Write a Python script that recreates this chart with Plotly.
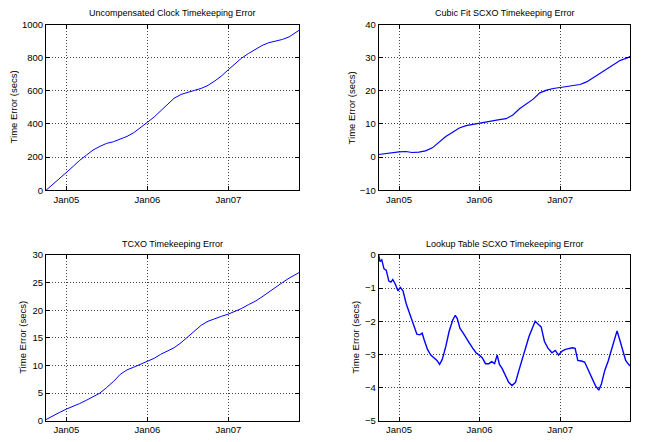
import plotly.graph_objects as go

# ---------------- data ----------------
months = ["2004-10-01", "2004-11-01", "2004-12-01", "2005-01-01", "2005-02-01", "2005-03-01",
          "2005-04-01", "2005-05-01", "2005-06-01", "2005-07-01", "2005-08-01", "2005-09-01",
          "2005-10-01", "2005-11-01", "2005-12-01", "2006-01-01", "2006-02-01", "2006-03-01",
          "2006-04-01", "2006-05-01", "2006-06-01", "2006-07-01", "2006-08-01", "2006-09-01",
          "2006-10-01", "2006-11-01", "2006-12-01", "2007-01-01", "2007-02-01", "2007-03-01",
          "2007-04-01", "2007-05-01", "2007-06-01", "2007-07-01", "2007-08-01", "2007-09-01",
          "2007-10-01", "2007-11-01", "2007-11-15"]

uncompensated = [0, 35, 72, 108, 145, 180, 212, 243, 265, 283, 293, 307, 325, 348, 377, 410,
                 443, 478, 520, 555, 578, 592, 603, 615, 633, 660, 690, 728, 762, 797, 825,
                 850, 873, 890, 900, 910, 925, 953, 965]

cubic_fit = [0.8, 1.1, 1.3, 1.6, 1.7, 1.4, 1.5, 1.9, 2.8, 4.4, 6.2, 7.5, 8.8, 9.5, 9.9, 10.2,
             10.6, 11.1, 11.3, 11.6, 12.7, 14.6, 16.0, 17.5, 19.4, 20.2, 20.7, 20.9, 21.3, 21.6,
             21.9, 22.7, 24.0, 25.4, 26.8, 28.1, 29.2, 29.9, 30.4]

tcxo = [0.2, 0.9, 1.5, 2.1, 2.6, 3.1, 3.7, 4.3, 5.0, 6.0, 7.1, 8.4, 9.2, 9.7, 10.2, 10.7, 11.3,
        12.0, 12.6, 13.2, 14.1, 15.2, 16.3, 17.3, 18.0, 18.5, 18.9, 19.3, 19.8, 20.3, 21.0,
        21.6, 22.4, 23.3, 24.2, 25.0, 25.8, 26.5, 26.8]

lookup_dates = ["2004-10-01", "2004-10-07", "2004-10-15", "2004-10-25", "2004-11-04", "2004-11-16",
                "2004-11-25", "2004-12-04", "2004-12-16", "2004-12-27", "2005-01-07", "2005-01-19",
                "2005-02-03", "2005-02-21", "2005-03-11", "2005-03-23", "2005-04-05", "2005-04-16",
                "2005-04-25", "2005-05-10", "2005-05-25", "2005-06-10", "2005-06-22", "2005-07-04",
                "2005-07-16", "2005-08-01", "2005-08-16", "2005-09-01", "2005-09-13", "2005-09-22",
                "2005-10-04", "2005-10-19", "2005-11-01", "2005-11-16", "2005-12-01", "2005-12-16",
                "2006-01-01", "2006-01-13", "2006-01-28", "2006-02-12", "2006-02-25", "2006-03-10",
                "2006-03-22", "2006-04-01", "2006-04-13", "2006-04-28", "2006-05-13", "2006-05-28",
                "2006-06-13", "2006-06-28", "2006-07-13", "2006-07-28", "2006-08-13", "2006-08-28",
                "2006-09-10", "2006-09-25", "2006-10-07", "2006-10-22", "2006-11-07", "2006-11-25",
                "2006-12-10", "2006-12-25", "2007-01-10", "2007-01-25", "2007-02-10", "2007-02-25",
                "2007-03-10", "2007-03-22", "2007-04-07", "2007-04-22", "2007-05-07", "2007-05-25",
                "2007-06-10", "2007-06-25", "2007-07-07", "2007-07-22", "2007-08-07", "2007-08-22",
                "2007-09-07", "2007-09-16", "2007-09-28", "2007-10-13", "2007-10-25", "2007-11-07",
                "2007-11-15"]

lookup_table = [0.0, -0.2, -0.15, -0.42, -0.46, -0.79, -0.82, -0.74, -0.89, -1.08, -0.98, -1.08,
                -1.48, -1.82, -2.12, -2.39, -2.41, -2.36, -2.56, -2.85, -3.02, -3.10, -3.18, -3.30,
                -3.15, -2.76, -2.31, -1.97, -1.82, -1.92, -2.21, -2.36, -2.51, -2.66, -2.81, -2.95,
                -3.03, -3.10, -3.28, -3.28, -3.22, -3.28, -3.02, -3.30, -3.42, -3.64, -3.84, -3.94,
                -3.84, -3.49, -3.15, -2.76, -2.46, -2.21, -2.00, -2.10, -2.17, -2.61, -2.81, -2.95,
                -2.88, -3.02, -2.90, -2.85, -2.82, -2.80, -2.82, -3.18, -3.20, -3.23, -3.45, -3.74,
                -3.94, -4.08, -3.89, -3.49, -3.20, -2.85, -2.46, -2.29, -2.56, -2.95, -3.18, -3.30,
                -3.35]

titles = ["Uncompensated Clock Timekeeping Error", "Cubic Fit SCXO Timekeeping Error",
          "TCXO Timekeeping Error", "Lookup Table SCXO Timekeeping Error"]
y_label = "Time Error (secs)"
x_tick_vals = ["2005-01-01", "2006-01-01", "2007-01-01"]
x_tick_text = ["Jan05", "Jan06", "Jan07"]
x_range = ["2004-10-01", "2007-11-15"]

y_ticks = [[0, 200, 400, 600, 800, 1000], [-10, 0, 10, 20, 30, 40],
           [0, 5, 10, 15, 20, 25, 30], [-5, -4, -3, -2, -1, 0]]

# ---------------- layout ----------------
W, H = 646, 442
FONT = "Liberation Sans, Arial, Helvetica, sans-serif"
panels = [
    # (x0,x1,ytop,ybottom) in pixels, y-title x pixel
    (46, 299, 19, 189, 13),
    (378.7, 630.3, 19, 189, 351),
    (46, 299, 255.3, 425.3, 23),
    (378.7, 630.3, 255.3, 425.3, 356),
]
series = [(months, uncompensated, 1.0), (months, cubic_fit, 1.2),
          (months, tcxo, 1.0), (lookup_dates, lookup_table, 1.4)]

fig = go.Figure()
annotations = []
for i, ((x0, x1, yt, yb, ytx), (xs, ys, lw)) in enumerate(zip(panels, series)):
    n = "" if i == 0 else str(i + 1)
    fig.add_trace(go.Scatter(x=xs, y=ys, mode="lines", line=dict(color="#0000ff", width=lw),
                             xaxis="x" + n, yaxis="y" + n, showlegend=False, hoverinfo="skip"))
    common = dict(showline=True, linecolor="black", linewidth=1, mirror="ticks",
                  ticks="inside", ticklen=4, tickcolor="black", showgrid=True,
                  gridcolor="#444444", griddash="1px,2px", gridwidth=1, zeroline=False,
                  tickfont=dict(family=FONT, size=9.5, color="black"))
    fig.update_layout(**{
        "xaxis" + n: dict(domain=[x0 / W, x1 / W], anchor="y" + n, type="date",
                          range=x_range, tickvals=x_tick_vals, ticktext=x_tick_text, **common),
        "yaxis" + n: dict(domain=[1 - yb / H, 1 - yt / H], anchor="x" + n,
                          range=[y_ticks[i][0], y_ticks[i][-1]], tickvals=y_ticks[i], **common),
    })
    annotations.append(dict(text=titles[i], x=(x0 + x1) / 2 / W, y=1 - (yt - 11.5) / H,
                            xref="paper", yref="paper", showarrow=False, xanchor="center",
                            yanchor="middle", font=dict(family=FONT, size=9, color="black")))
    annotations.append(dict(text=y_label, x=ytx / W, y=1 - (yt + yb) / 2 / H, xref="paper",
                            yref="paper", showarrow=False, textangle=-90, xanchor="center",
                            yanchor="middle", font=dict(family=FONT, size=9.5, color="black")))

fig.update_layout(width=W, height=H, margin=dict(l=0, r=0, t=0, b=0),
                  paper_bgcolor="white", plot_bgcolor="white", annotations=annotations)
fig.write_html("out.html", config={"displayModeBar": False},
               post_script="document.body.style.margin='0';document.body.style.overflow='hidden';")
